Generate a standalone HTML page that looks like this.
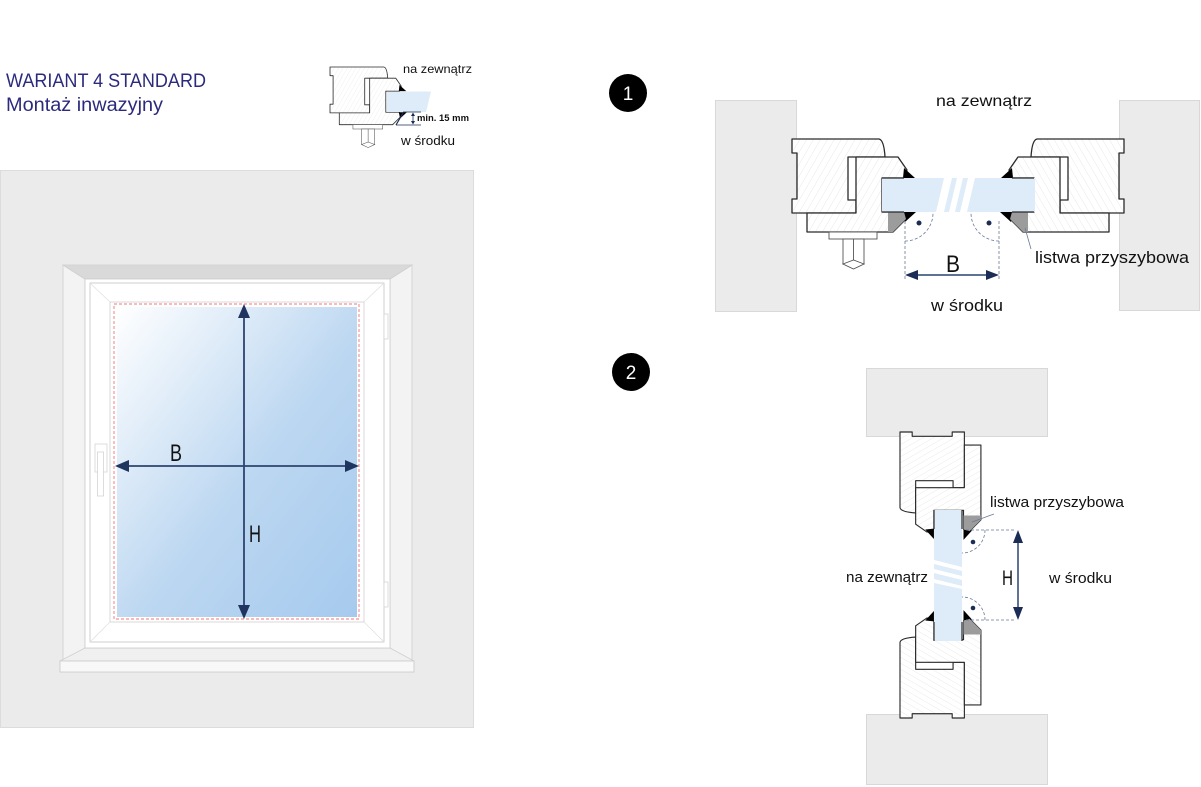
<!DOCTYPE html>
<html><head><meta charset="utf-8"><style>
html,body{margin:0;padding:0;background:#fff;}
svg{display:block;}
text{font-family:"Liberation Sans",sans-serif;}
</style></head><body>
<svg width="1201" height="787" viewBox="0 0 1201 787" xmlns="http://www.w3.org/2000/svg">
<defs>
<pattern id="hatch" width="6" height="6" patternUnits="userSpaceOnUse" patternTransform="rotate(30)">
<rect width="6" height="6" fill="#fff"/>
<line x1="0" y1="0" x2="0" y2="6" stroke="#e2e2e2" stroke-width="0.8"/>
</pattern>
<linearGradient id="glassG" x1="0" y1="0" x2="1" y2="1">
<stop offset="0" stop-color="#ffffff"/>
<stop offset="0.55" stop-color="#bcd7f1"/>
<stop offset="1" stop-color="#a6caee"/>
</linearGradient>
<g id="prof" stroke="#2a2a2a" stroke-width="1.3" stroke-linejoin="round">
<path d="M792,139 H879 Q884,140 885,157 H848 V200 H856 V213 H792 V199 H797 V153 H792 Z" fill="url(#hatch)"/>
<path d="M856,157 H898 L907,170 L904,178 H882 V212 H904 L906,219 L893,232 H807 V213 H856 Z" fill="url(#hatch)"/>
<polygon points="904,168 915,178 903,178" fill="#000" stroke="none"/>
<polygon points="903,212 916,212 905,222" fill="#000" stroke="none"/>
</g>
<polygon id="bead" points="888,212 904,212 906,219 893,232 888,232" fill="#9c9c9c" stroke="none"/>
<g id="handle" stroke="#555" stroke-width="0.9" fill="#fff">
<rect x="829" y="232" width="48" height="7"/>
<rect x="843" y="239" width="21" height="25"/>
<line x1="853.5" y1="239" x2="853.5" y2="264"/>
<polygon points="843,264 853.5,260 864,264 853.5,269"/>
</g>
</defs>

<!-- Title -->
<text x="6" y="87" font-size="19" fill="#2c2a7c" textLength="200" lengthAdjust="spacingAndGlyphs">WARIANT 4 STANDARD</text>
<text x="6" y="111" font-size="19" fill="#2c2a7c" textLength="157" lengthAdjust="spacingAndGlyphs">Montaż inwazyjny</text>

<!-- small icon -->
<g transform="matrix(.62,0,0,.62,-161.04,-19.18)">
<use href="#prof"/>
<use href="#handle"/>
</g>
<polygon points="387,91.5 431,91.5 426,112 387,112" fill="#deebf8"/>
<line x1="403" y1="113" x2="396" y2="125" stroke="#1b2d55" stroke-width="1.2"/>
<line x1="403" y1="112" x2="421" y2="112" stroke="#1b2d55" stroke-width="0.8"/>
<line x1="396" y1="125" x2="421" y2="125" stroke="#1b2d55" stroke-width="0.8"/>
<line x1="413" y1="114" x2="413" y2="123" stroke="#1b2d55" stroke-width="0.8"/>
<polygon points="413,112.5 411,116 415,116" fill="#1b2d55"/>
<polygon points="413,124.5 411,121 415,121" fill="#1b2d55"/>
<text x="403" y="73" font-size="12" fill="#111" textLength="69" lengthAdjust="spacingAndGlyphs">na zewnątrz</text>
<text x="417" y="121" font-size="9" font-weight="bold" fill="#111" textLength="52" lengthAdjust="spacingAndGlyphs">min. 15 mm</text>
<text x="401" y="145" font-size="13" fill="#111" textLength="54" lengthAdjust="spacingAndGlyphs">w środku</text>

<!-- Window -->
<rect x="0.5" y="170.5" width="473" height="557" fill="#ebebeb" stroke="#dcdcdc"/>
<polygon points="63,265 85,279 85,648 63,661" fill="#f3f3f3" stroke="#cfcfcf" stroke-width="0.8"/>
<polygon points="412,265 390,279 390,648 412,661" fill="#f3f3f3" stroke="#cfcfcf" stroke-width="0.8"/>
<polygon points="63,265 412,265 390,279 85,279" fill="#d9d9d9" stroke="#cfcfcf" stroke-width="0.8"/>
<polygon points="85,648 390,648 414,661 60,661" fill="#f0f0f0" stroke="#cfcfcf" stroke-width="0.8"/>
<rect x="60" y="661" width="354" height="11" fill="#f8f8f8" stroke="#c8c8c8" stroke-width="0.8"/>
<rect x="85" y="279" width="305" height="369" fill="#fff" stroke="#cacaca" stroke-width="0.8"/>
<rect x="90" y="283" width="294" height="359" fill="#fff" stroke="#c4c4c4" stroke-width="0.8"/>
<g stroke="#e2e2e2" stroke-width="0.8">
<line x1="90" y1="283" x2="110" y2="302"/>
<line x1="384" y1="283" x2="364" y2="302"/>
<line x1="90" y1="642" x2="110" y2="622"/>
<line x1="384" y1="642" x2="364" y2="622"/>
</g>
<rect x="110" y="302" width="254" height="320" fill="#fff" stroke="#d0d0d0" stroke-width="0.8"/>
<rect x="117" y="307" width="240" height="310" fill="url(#glassG)"/>
<rect x="114" y="304" width="245" height="315" fill="none" stroke="#f07474" stroke-width="0.9" stroke-dasharray="3,2"/>
<rect x="95" y="444" width="12" height="28" fill="#fff" stroke="#d4d4d4" stroke-width="0.8"/>
<rect x="97.5" y="452" width="6" height="44" fill="#fff" stroke="#d4d4d4" stroke-width="0.8"/>
<rect x="384" y="314" width="4" height="25" fill="#fff" stroke="#d4d4d4" stroke-width="0.8"/>
<rect x="384" y="582" width="4" height="25" fill="#fff" stroke="#d4d4d4" stroke-width="0.8"/>
<g fill="#1f3560">
<line x1="244" y1="316" x2="244" y2="607" stroke="#2c4470" stroke-width="1.8"/>
<line x1="126" y1="466" x2="347" y2="466" stroke="#2c4470" stroke-width="1.8"/>
<polygon points="244,304 238,318 250,318"/>
<polygon points="244,619 238,605 250,605"/>
<polygon points="115,466 129,460 129,472"/>
<polygon points="359,466 345,460 345,472"/>
</g>
<text x="170" y="461" font-size="24" fill="#111" textLength="12" lengthAdjust="spacingAndGlyphs">B</text>
<text x="249" y="542" font-size="24" fill="#111" textLength="12" lengthAdjust="spacingAndGlyphs">H</text>

<!-- number circles -->
<circle cx="628" cy="93" r="19" fill="#000"/>
<text x="628" y="100" font-size="19" fill="#fff" text-anchor="middle">1</text>
<circle cx="631" cy="372" r="19" fill="#000"/>
<text x="631" y="379" font-size="19" fill="#fff" text-anchor="middle">2</text>

<!-- Diagram 1 -->
<rect x="715.5" y="100.5" width="81" height="211" fill="#ebebeb" stroke="#d8d8d8"/>
<rect x="1119.5" y="100.5" width="80" height="210" fill="#ebebeb" stroke="#d8d8d8"/>
<use href="#prof"/>
<use href="#prof" transform="matrix(-1,0,0,1,1916,0)"/>
<use href="#bead"/>
<use href="#bead" transform="matrix(-1,0,0,1,1916,0)"/>
<use href="#handle"/>
<rect x="882" y="178" width="153" height="34" fill="#deebf8"/>
<g fill="#fff">
<polygon points="936,212 944,212 952,178 944,178"/>
<polygon points="949,212 955,212 963,178 957,178"/>
<polygon points="960,212 967,212 975,178 968,178"/>
</g>
<g stroke="#2a2a2a" stroke-width="1.3" fill="none">
<line x1="882" y1="178" x2="904" y2="178"/>
<line x1="882" y1="212" x2="904" y2="212"/>
<line x1="1034" y1="178" x2="1012" y2="178"/>
<line x1="1034" y1="212" x2="1012" y2="212"/>
</g>
<g stroke="#6a7a99" stroke-width="0.8" stroke-dasharray="3,2" fill="none">
<line x1="905" y1="221" x2="905" y2="280"/>
<path d="M905,241 A28,28 0 0 0 933,213"/>
<line x1="999" y1="221" x2="999" y2="279"/>
<path d="M999,241 A28,28 0 0 1 971,213"/>
</g>
<circle cx="919" cy="223" r="2.5" fill="#1b2d55"/>
<circle cx="989" cy="223" r="2.5" fill="#1b2d55"/>
<line x1="917" y1="275" x2="987" y2="275" stroke="#2c4470" stroke-width="1.5"/>
<polygon points="905,275 918,270 918,280" fill="#1b2d55"/>
<polygon points="999,275 986,270 986,280" fill="#1b2d55"/>
<line x1="1025" y1="228" x2="1031" y2="249" stroke="#6a7a99" stroke-width="0.8"/>
<text x="946" y="272" font-size="24" fill="#111" textLength="14" lengthAdjust="spacingAndGlyphs">B</text>
<text x="936" y="106" font-size="16" fill="#111" textLength="96" lengthAdjust="spacingAndGlyphs">na zewnątrz</text>
<text x="931" y="311" font-size="17" fill="#111" textLength="72" lengthAdjust="spacingAndGlyphs">w środku</text>
<text x="1035" y="263" font-size="17" fill="#111" textLength="154" lengthAdjust="spacingAndGlyphs">listwa przyszybowa</text>

<!-- Diagram 2 -->
<rect x="866.5" y="368.5" width="181" height="68" fill="#ebebeb" stroke="#d8d8d8"/>
<rect x="866.5" y="714.5" width="181" height="70" fill="#ebebeb" stroke="#d8d8d8"/>
<g transform="matrix(0,0.87,0.87,0,779.07,-257.04)">
<use href="#prof"/>
<use href="#bead"/>
</g>
<g transform="matrix(0,-0.87,0.87,0,779.07,1407.04)">
<use href="#prof"/>
<use href="#bead"/>
</g>
<rect x="934" y="510" width="28" height="131" fill="#deebf8"/>
<g fill="#fff">
<polygon points="934,560 962,567 962,571 934,564"/>
<polygon points="934,569 962,576 962,580 934,573"/>
<polygon points="934,579 962,586 962,589 934,583"/>
</g>
<g stroke="#2a2a2a" stroke-width="1.2" fill="none">
<line x1="934" y1="510" x2="934" y2="529"/>
<line x1="962" y1="510" x2="962" y2="529"/>
<line x1="934" y1="641" x2="934" y2="622"/>
<line x1="962" y1="641" x2="962" y2="622"/>
</g>
<g stroke="#6a7a99" stroke-width="0.8" stroke-dasharray="3,2" fill="none">
<line x1="966" y1="530" x2="1014" y2="530"/>
<path d="M985,530 A23,23 0 0 1 962,553"/>
<line x1="966" y1="620" x2="1014" y2="620"/>
<path d="M985,620 A23,23 0 0 0 962,597"/>
</g>
<circle cx="973" cy="542" r="2.3" fill="#1b2d55"/>
<circle cx="973" cy="608" r="2.3" fill="#1b2d55"/>
<line x1="1018" y1="542" x2="1018" y2="608" stroke="#2c4470" stroke-width="1.5"/>
<polygon points="1018,530 1013,543 1023,543" fill="#1b2d55"/>
<polygon points="1018,620 1013,607 1023,607" fill="#1b2d55"/>
<line x1="972" y1="522" x2="994" y2="514" stroke="#6a7a99" stroke-width="0.8"/>
<text x="1002" y="585" font-size="21" fill="#111" textLength="11" lengthAdjust="spacingAndGlyphs">H</text>
<text x="846" y="582" font-size="15" fill="#111" textLength="82" lengthAdjust="spacingAndGlyphs">na zewnątrz</text>
<text x="1049" y="583" font-size="15" fill="#111" textLength="63" lengthAdjust="spacingAndGlyphs">w środku</text>
<text x="990" y="507" font-size="15" fill="#111" textLength="134" lengthAdjust="spacingAndGlyphs">listwa przyszybowa</text>
</svg>
</body></html>
